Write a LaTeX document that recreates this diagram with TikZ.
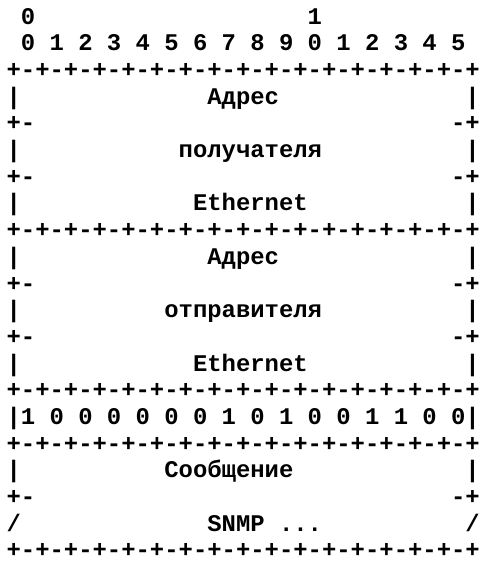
\documentclass[tikz,border=0pt]{standalone}
\usepackage{fontspec}
\newfontfamily\monofnt{Liberation Mono}
\tikzset{
  ch/.style={font=\monofnt\bfseries\fontsize{23.9}{26.7}\selectfont, anchor=base west, inner sep=0pt, outer sep=0pt, text=black}
}
\begin{document}
\begin{tikzpicture}[x=14.34pt, y=-26.7pt]
\useasboundingbox (0,0) rectangle (33.543,21.199);
\begin{scope}[shift={(0.46,-0.101)}]
% header
\node[ch] (h0) at (1,1) {0};
\node[ch] (h1) at (21,1) {1};
\foreach \i in {0,...,15}{
  \pgfmathtruncatemacro{\d}{mod(\i,10)}
  \node[ch] (b\i) at ({1+2*\i},2) {\d};
}
% full borders
\foreach \r in {3,9,15,17,21}{
  \node[ch] (border\r) at (0,\r) {+-+-+-+-+-+-+-+-+-+-+-+-+-+-+-+-+};
}
% side bars
\foreach \r in {4,6,8,10,12,14,18}{
  \node[ch] (l\r) at (0,\r) {|};
  \node[ch] (r\r) at (32,\r) {|};
}
% partial separators
\foreach \r in {5,7,11,13,19}{
  \node[ch] (pl\r) at (0,\r) {+-};
  \node[ch] (pr\r) at (31,\r) {-+};
}
% field texts
\node[ch] (t4) at (14,4) {Адрес};
\node[ch] (t6) at (12,6) {получателя};
\node[ch] (t8) at (13,8) {Ethernet};
\node[ch] (t10) at (14,10) {Адрес};
\node[ch] (t12) at (11,12) {отправителя};
\node[ch] (t14) at (13,14) {Ethernet};
\node[ch] (t18) at (11,18) {Сообщение};
% type field
\node[ch] (l16) at (0,16) {|};
\node[ch] (r16) at (32,16) {|};
\foreach \v [count=\i from 0] in {1,0,0,0,0,0,0,1,0,1,0,0,1,1,0,0}{
  \node[ch] (v\i) at ({1+2*\i},16) {\v};
}
% last row
\node[ch] (l20) at (0,20) {/};
\node[ch] (r20) at (32,20) {/};
\node[ch] (t20) at (14,20) {SNMP ...};
\end{scope}
\end{tikzpicture}
\end{document}
